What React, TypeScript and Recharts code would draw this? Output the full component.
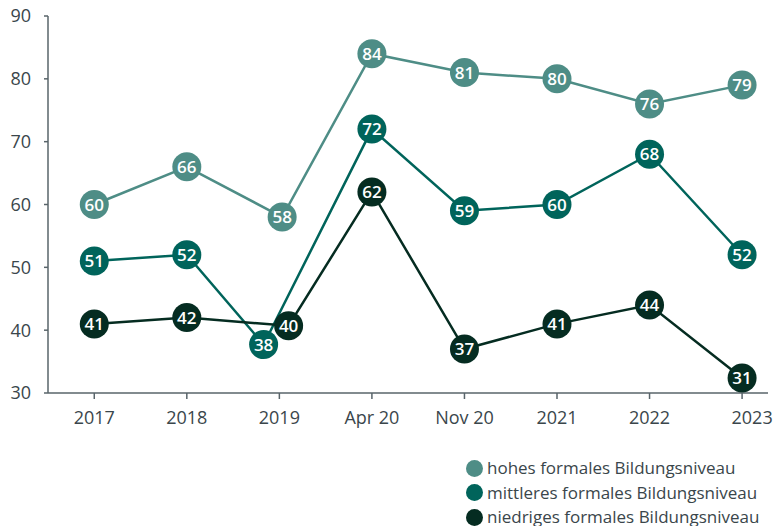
import React from 'react';
import { LineChart, Line, XAxis, YAxis } from 'recharts';

const categories = ['2017', '2018', '2019', 'Apr 20', 'Nov 20', '2021', '2022', '2023'];
const hohes = [60, 66, 58, 84, 81, 80, 76, 79];
const mittleres = [51, 52, 38, 72, 59, 60, 68, 52];
const niedriges = [41, 42, 40, 62, 37, 41, 44, 31];
const yTicks = [30, 40, 50, 60, 70, 80, 90];

const series = [
  { key: 'hohes', name: 'hohes formales Bildungsniveau', values: hohes, color: '#4e8d86' },
  { key: 'mittleres', name: 'mittleres formales Bildungsniveau', values: mittleres, color: '#00645b' },
  { key: 'niedriges', name: 'niedriges formales Bildungsniveau', values: niedriges, color: '#052c21' },
];

// bubble placement nudges (x in category steps, y in axis units) so markers don't collide
const nudge: Record<string, Record<number, [number, number]>> = {
  hohes: { 2: [0.03, 0] },
  mittleres: { 2: [-0.17, -0.3] },
  niedriges: { 2: [0.1, 0.7], 7: [0, 1.4] },
};

const toRows = (key: string, values: number[]) =>
  values.map((v, i) => {
    const [dx, dy] = nudge[key]?.[i] ?? [0, 0];
    return { x: i + dx, y: v + dy, value: v };
  });

const FONT = '"Open Sans", sans-serif';
const AXIS = '#58646a';
const TEXT = '#3a464b';

const bubble = (color: string) => (props: any) => {
  const { cx, cy, payload, index } = props;
  if (cx == null || cy == null) return null;
  return (
    <g key={index}>
      <circle cx={cx} cy={cy} r={14.5} fill={color} />
      <text x={cx} y={cy} dy="0.36em" textAnchor="middle" fill="#fff" fontSize={17} fontWeight={600} fontFamily={FONT}>
        {payload.value}
      </text>
    </g>
  );
};

const XTick = (props: any) => {
  const { x, y, payload, index } = props;
  const shift = index === categories.length - 1 ? 10 : 0;
  return (
    <text x={x + shift} y={y} dy="0.71em" textAnchor="middle" fill={TEXT} fontSize={18} fontFamily={FONT}>
      {categories[payload.value]}
    </text>
  );
};

export default function App() {
  return (
    <div style={{ position: 'absolute', left: 0, top: 0, width: 781, height: 526, fontFamily: FONT, background: '#fff' }}>
      <LineChart width={781} height={526} margin={{ top: 16, right: 13, bottom: 93, left: 0 }}>
        <XAxis
          type="number"
          dataKey="x"
          domain={[-0.5, 7.28]}
          ticks={[0, 1, 2, 3, 4, 5, 6, 7]}
          allowDataOverflow
          height={40}
          stroke={AXIS}
          strokeWidth={1.5}
          tickSize={6}
          tickMargin={12}
          tick={<XTick />}
        />
        <YAxis
          type="number"
          domain={[30, 90]}
          ticks={yTicks}
          width={48}
          stroke={AXIS}
          strokeWidth={1.5}
          tickSize={4}
          tickMargin={13}
          tick={{ fill: TEXT, fontSize: 18, fontFamily: FONT }}
        />
        {series.map((s) => (
          <Line
            key={s.key}
            data={toRows(s.key, s.values)}
            dataKey="y"
            name={s.name}
            stroke={s.color}
            strokeWidth={2.5}
            dot={bubble(s.color)}
            activeDot={false}
            isAnimationActive={false}
          />
        ))}
      </LineChart>
      <div style={{ position: 'absolute', left: 466, top: 456, fontSize: 17, color: TEXT, lineHeight: '24.5px' }}>
        {series.map((s) => (
          <div key={s.key} style={{ display: 'flex', alignItems: 'center', height: 24.5, whiteSpace: 'nowrap' }}>
            <span style={{ width: 17, height: 17, borderRadius: '50%', background: s.color, marginRight: 4, display: 'inline-block' }} />
            <span>{s.name}</span>
          </div>
        ))}
      </div>
    </div>
  );
}
